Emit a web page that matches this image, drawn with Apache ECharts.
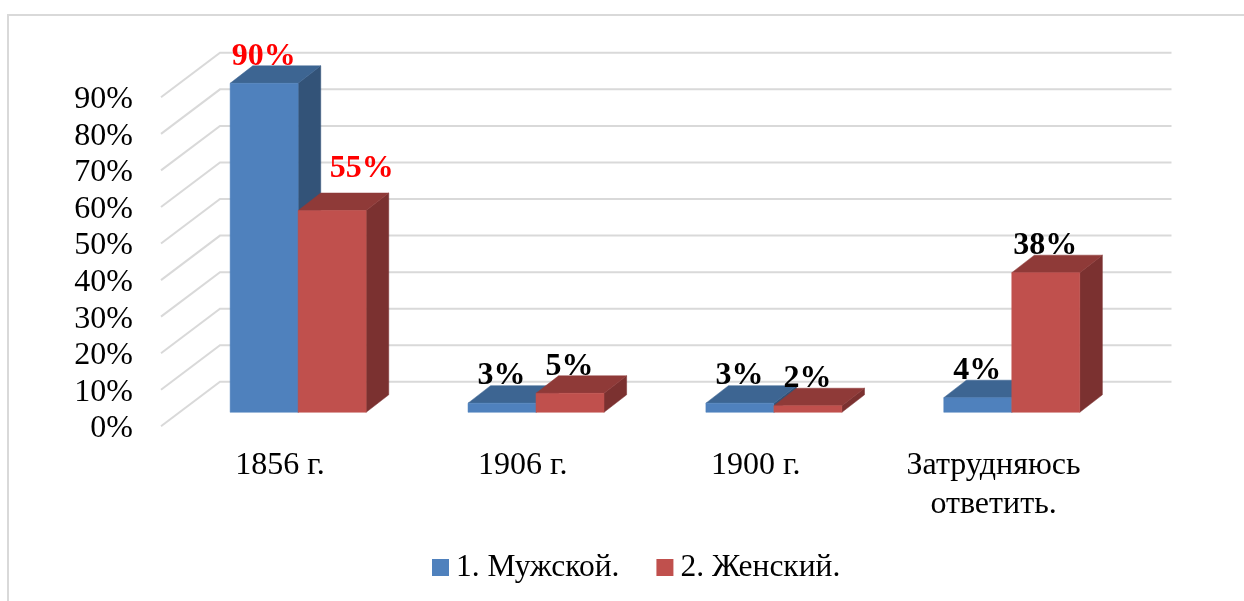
<!DOCTYPE html>
<html><head><meta charset="utf-8">
<style>html,body{margin:0;padding:0;background:#fff}#c{width:1244px;height:601px}</style>
<script src="https://cdn.jsdelivr.net/npm/echarts@6/dist/echarts.min.js"></script>
</head><body><div id="c"></div>
<script>
const categories = ['1856 г.', '1906 г.', '1900 г.', 'Затрудняюсь\nответить.'];
const seriesNames = ['1. Мужской.', '2. Женский.'];
const male = [90, 2.5, 2.5, 4];
const female = [55.2, 5.2, 1.8, 38.2];
const yTicks = [0, 10, 20, 30, 40, 50, 60, 70, 80, 90];

const FONT = '"Liberation Serif","Times New Roman",serif';
const GRID = '#d9d9d9';
const WALL = {dx: 59, dy: -44.5};       // floor depth of the chart box
const BAR = {dx: 22.6, dy: -17.5, inX: 18.2, inY: -14, width: 68};

function wallItem(params, api) {
  const v = api.value(0);
  const a = api.coord([0, v]);
  a[0] = params.coordSys.x;
  const right = params.coordSys.x + params.coordSys.width;
  return {type: 'polyline', silent: true, shape: {points: [
      [a[0], a[1]], [a[0] + WALL.dx, a[1] + WALL.dy], [right + WALL.dx, a[1] + WALL.dy]]},
    style: {stroke: GRID, lineWidth: 2, fill: 'none'}};
}

function barRenderer(side, cols, labelOffsetFor) {
  return function (params, api) {
    const cat = api.value(0), val = api.value(1);
    const base = api.coord([cat, 0]), top = api.coord([cat, val]);
    const cx = base[0] + BAR.inX;
    const x0 = side === 0 ? cx - BAR.width : cx, x1 = x0 + BAR.width;
    const y0 = base[1] + BAR.inY, y1 = top[1] + BAR.inY;
    const d = BAR.dx, e = BAR.dy;
    const poly = (pts, fill) => ({type: 'polygon', shape: {points: pts},
      style: {fill, stroke: fill, lineWidth: 0.5}});
    const off = labelOffsetFor(cat);
    return {type: 'group', children: [
      poly([[x1, y0], [x1 + d, y0 + e], [x1 + d, y1 + e], [x1, y1]], cols.side),
      poly([[x0, y1], [x1, y1], [x1 + d, y1 + e], [x0 + d, y1 + e]], cols.top),
      poly([[x0, y0], [x1, y0], [x1, y1], [x0, y1]], cols.front),
      {type: 'text', z2: 100, silent: true, style: {
        text: Math.round(val) + '%',
        x: (x0 + x1) / 2 - 0.5 + off[0], y: y1 - 27 + off[1],
        align: 'center', verticalAlign: 'middle',
        fontFamily: FONT, fontWeight: 'bold', fontSize: 32,
        fill: cat === 0 ? '#ff0000' : '#000000'}}
    ]};
  };
}

const blue = {front: '#4f81bd', top: '#3d6592', side: '#335378'};
const red = {front: '#c0504d', top: '#8f3a38', side: '#7b3130'};

const chart = echarts.init(document.getElementById('c'), null, {renderer: 'canvas'});
chart.setOption({
  animation: false,
  backgroundColor: '#ffffff',
  grid: {left: 161, top: 97.3, width: 951.5, height: 329, containLabel: false},
  graphic: [{type: 'polyline', silent: true, z: -10,
    shape: {points: [[8, 601], [8, 15], [1244, 15]]},
    style: {stroke: GRID, lineWidth: 2, fill: 'none'}}],
  legend: {
    left: 432, top: 551.5, itemWidth: 17, itemHeight: 17, itemGap: 37, padding: 0,
    icon: 'rect', selectedMode: false,
    textStyle: {fontFamily: FONT, fontSize: 31.5, color: '#000', padding: [5, 0, 0, 2]},
    data: seriesNames
  },
  xAxis: {type: 'category',
    data: categories.map((c, i) => i === 1 ? {value: c, textStyle: {padding: [0, 0, 0, 10]}} : c),
    axisLine: {show: false}, axisTick: {show: false}, splitLine: {show: false},
    axisLabel: {fontFamily: FONT, fontSize: 32, color: '#000', margin: 20, lineHeight: 39, interval: 0}},
  yAxis: {type: 'value', min: 0, max: 90, interval: 10,
    axisLine: {show: false}, axisTick: {show: false}, splitLine: {show: false},
    axisLabel: {fontFamily: FONT, fontSize: 32, color: '#000', margin: 28, formatter: '{a|{value}%}',
      rich: {a: {fontFamily: FONT, fontSize: 32, color: '#000', padding: [5, 0, 0, 0]}}}},
  series: [
    {type: 'custom', name: 'grid', z: 1, silent: true, renderItem: wallItem,
     encode: {y: 0}, data: yTicks.map(v => [v]), clip: false, legendHoverLink: false},
    {type: 'custom', name: seriesNames[0], z: 2, clip: false,
     itemStyle: {color: blue.front}, encode: {x: 0, y: 1},
     renderItem: barRenderer(0, blue, () => [0, 0]),
     data: male.map((v, i) => [i, v])},
    {type: 'custom', name: seriesNames[1], z: 2, clip: false,
     itemStyle: {color: red.front}, encode: {x: 0, y: 1},
     renderItem: barRenderer(1, red, c => c === 0 ? [30, -15] : [0, 0]),
     data: female.map((v, i) => [i, v])}
  ]
});
</script></body></html>
